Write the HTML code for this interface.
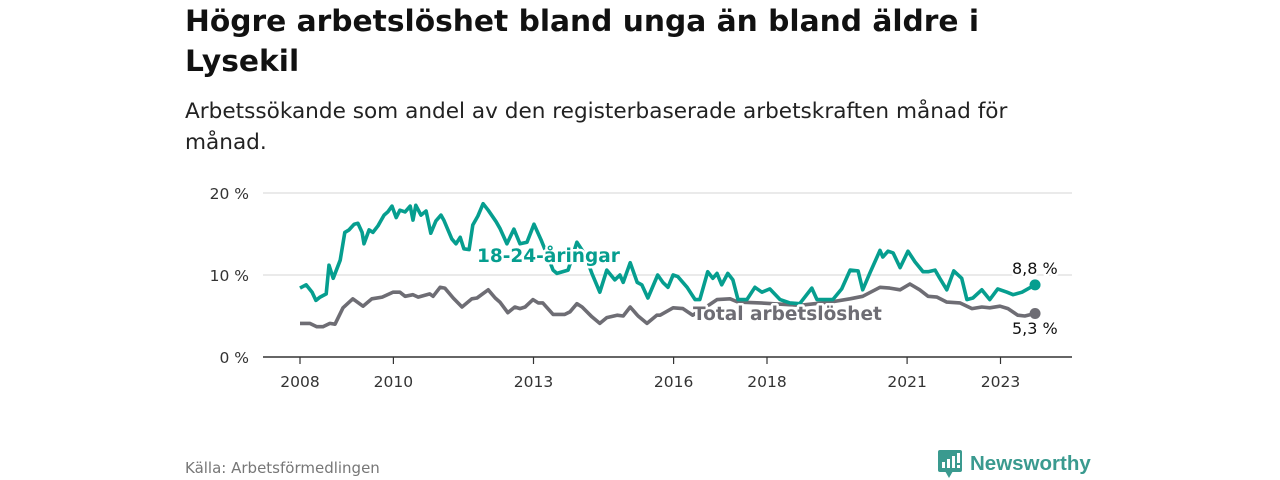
<!DOCTYPE html>
<html><head><meta charset="utf-8"><style>
body{margin:0;width:1280px;height:480px;background:#fff;font-family:"DejaVu Sans",sans-serif;overflow:hidden;position:relative}
h1{position:absolute;left:185px;top:2px;margin:0;font-size:29.7px;line-height:40px;font-weight:bold;color:#111}
.sub{position:absolute;left:185px;top:96px;font-size:21.6px;line-height:31px;color:#222}
.src{position:absolute;left:185px;top:459px;font-size:15px;color:#777}
svg{position:absolute;left:0;top:0}
</style></head><body>
<h1>Högre arbetslöshet bland unga än bland äldre i<br>Lysekil</h1>
<div class="sub">Arbetssökande som andel av den registerbaserade arbetskraften månad för<br>månad.</div>
<div class="src">Källa: Arbetsförmedlingen</div>
<svg id="c" width="1280" height="480"></svg>
<script>
const yTicks=[0,10,20];
const xTickYears=[2008,2010,2013,2016,2018,2021,2023];
const youngDates=[2008.00,2008.13,2008.26,2008.34,2008.43,2008.56,2008.62,2008.71,2008.86,2008.96,2009.05,2009.16,2009.24,2009.33,2009.37,2009.48,2009.56,2009.67,2009.80,2009.88,2009.97,2010.06,2010.14,2010.25,2010.36,2010.42,2010.48,2010.59,2010.70,2010.80,2010.91,2011.02,2011.08,2011.25,2011.34,2011.43,2011.51,2011.62,2011.70,2011.81,2011.92,2012.03,2012.20,2012.28,2012.43,2012.58,2012.71,2012.86,2013.01,2013.16,2013.29,2013.42,2013.50,2013.74,2013.93,2014.10,2014.25,2014.42,2014.57,2014.74,2014.85,2014.92,2015.07,2015.22,2015.32,2015.45,2015.66,2015.77,2015.88,2015.99,2016.09,2016.29,2016.46,2016.56,2016.73,2016.84,2016.93,2017.03,2017.16,2017.27,2017.38,2017.57,2017.74,2017.89,2018.06,2018.28,2018.49,2018.70,2018.96,2019.07,2019.24,2019.41,2019.60,2019.78,2019.95,2020.05,2020.20,2020.42,2020.48,2020.59,2020.70,2020.85,2021.02,2021.17,2021.34,2021.45,2021.60,2021.70,2021.85,2022.00,2022.17,2022.28,2022.41,2022.60,2022.77,2022.94,2023.14,2023.27,2023.46,2023.74];
const youngValues=[8.4,8.8,7.9,6.9,7.3,7.7,11.2,9.6,11.8,15.2,15.5,16.2,16.3,15.2,13.8,15.5,15.2,16.0,17.3,17.7,18.4,17.0,17.9,17.7,18.4,16.7,18.5,17.3,17.8,15.1,16.6,17.3,16.7,14.4,13.8,14.6,13.2,13.1,16.1,17.2,18.7,17.9,16.5,15.7,13.8,15.6,13.8,14.0,16.2,14.3,12.5,10.6,10.2,10.6,14.0,12.5,10.2,7.9,10.6,9.4,10.0,9.1,11.5,9.1,8.8,7.2,10.0,9.1,8.5,10.0,9.8,8.5,7.0,7.0,10.4,9.6,10.2,8.8,10.2,9.4,7.0,7.0,8.5,7.9,8.3,7.0,6.6,6.5,8.4,7.0,7.0,7.0,8.3,10.6,10.5,8.2,10.2,13.0,12.2,12.9,12.7,10.9,12.9,11.6,10.4,10.4,10.6,9.6,8.2,10.5,9.6,7.0,7.2,8.2,7.0,8.3,7.9,7.6,7.9,8.8];
const totalDates=[2008.00,2008.21,2008.36,2008.49,2008.64,2008.75,2008.92,2009.13,2009.35,2009.54,2009.76,2009.99,2010.14,2010.25,2010.42,2010.53,2010.78,2010.85,2011.00,2011.10,2011.28,2011.47,2011.68,2011.79,2012.03,2012.18,2012.28,2012.45,2012.60,2012.71,2012.82,2012.99,2013.10,2013.20,2013.42,2013.67,2013.78,2013.93,2014.04,2014.25,2014.42,2014.57,2014.79,2014.92,2015.07,2015.24,2015.43,2015.64,2015.71,2015.99,2016.20,2016.41,2016.67,2016.93,2017.21,2017.38,2017.85,2018.70,2019.35,2019.78,2020.05,2020.42,2020.63,2020.85,2021.06,2021.27,2021.45,2021.64,2021.85,2022.13,2022.39,2022.60,2022.77,2022.99,2023.16,2023.37,2023.52,2023.74];
const totalValues=[4.1,4.1,3.7,3.7,4.1,4.0,6.0,7.1,6.2,7.1,7.3,7.9,7.9,7.4,7.6,7.3,7.7,7.4,8.5,8.4,7.2,6.1,7.1,7.2,8.2,7.2,6.7,5.4,6.1,5.9,6.1,7.0,6.6,6.6,5.2,5.2,5.5,6.5,6.1,4.9,4.1,4.8,5.1,5.0,6.1,5.0,4.1,5.1,5.1,6.0,5.9,5.1,6.0,7.0,7.1,6.7,6.6,6.3,6.7,7.1,7.4,8.5,8.4,8.2,8.9,8.2,7.4,7.3,6.7,6.6,5.9,6.1,6.0,6.2,5.9,5.1,5.0,5.3];
const NS='http://www.w3.org/2000/svg';
const svg=document.getElementById('c');
const X=y=>300+(y-2008)*46.7;
const Y=v=>357-v*8.2;
const FF='DejaVu Sans, sans-serif';
function el(t,a,p){const e=document.createElementNS(NS,t);for(const k in a)e.setAttribute(k,a[k]);(p||svg).appendChild(e);return e;}
yTicks.forEach(t=>{
 if(t>0){const g=el('line',{x1:263,x2:1072,y1:Y(t),y2:Y(t),stroke:'#dddddd','stroke-width':1.2});
 
 }
 const l=el('text',{x:249,y:Y(t)+6,'text-anchor':'end','font-size':15.5,fill:'#333','font-family':FF});
 l.textContent=t+' %';
 
 
});
const ax=el('line',{x1:263,x2:1072,y1:357,y2:357,stroke:'#333','stroke-width':1.5});


xTickYears.forEach(yr=>{
 el('line',{x1:X(yr),x2:X(yr),y1:357,y2:364,stroke:'#333','stroke-width':1.2});
 const l=el('text',{x:X(yr),y:387,'text-anchor':'middle','font-size':15.5,fill:'#333','font-family':FF});
 l.textContent=yr;
 
 
});
function line(d,v,col,name){
 const p=el('path',{d:d.map((t,i)=>(i?'L':'M')+X(t).toFixed(1)+','+Y(v[i]).toFixed(1)).join(''),fill:'none',stroke:col,'stroke-width':3.6,'stroke-linejoin':'round'});
 
 
 const c=el('circle',{cx:X(d[d.length-1]),cy:Y(v[v.length-1]),r:5.5,fill:col});
 
 
}
line(totalDates,totalValues,'#6e6d74','total-line');
line(youngDates,youngValues,'#069e8f','youth-line');
function lab(txt,x,y,col,sz,bold,name){
 const t=el('text',{x:x,y:y,'font-size':sz,fill:col,'font-weight':bold?'bold':'normal',stroke:'#fff','stroke-width':5,'paint-order':'stroke','stroke-linejoin':'round','font-family':FF});
 t.textContent=txt;
 
 
}
lab('18-24-åringar',477,262,'#069e8f',18.5,true,'youth-series-label');
lab('Total arbetslöshet',693,320,'#6e6d74',18.5,true,'total-series-label');
lab('8,8 %',1012,274,'#111',16,false,'youth-end-value');
lab('5,3 %',1012,334,'#111',16,false,'total-end-value');
</script>
<svg width="1280" height="480" style="pointer-events:none">
 <rect x="938" y="450" width="24" height="22" rx="2" fill="#3a9a8f"/>
 <polygon points="945,471 953,471 949,478" fill="#3a9a8f"/>
 <rect x="942" y="462" width="3" height="6" fill="#fff"/><rect x="947" y="459" width="3" height="9" fill="#fff"/><rect x="952" y="456" width="3" height="12" fill="#fff"/><rect x="957" y="453" width="3" height="10" fill="#fff"/><rect x="957" y="465" width="3" height="3" fill="#fff"/>
 <text x="970" y="470" font-size="20.5" font-weight="bold" fill="#3a9a8f" font-family="Liberation Sans, sans-serif">Newsworthy</text>
</svg>
</body></html>
